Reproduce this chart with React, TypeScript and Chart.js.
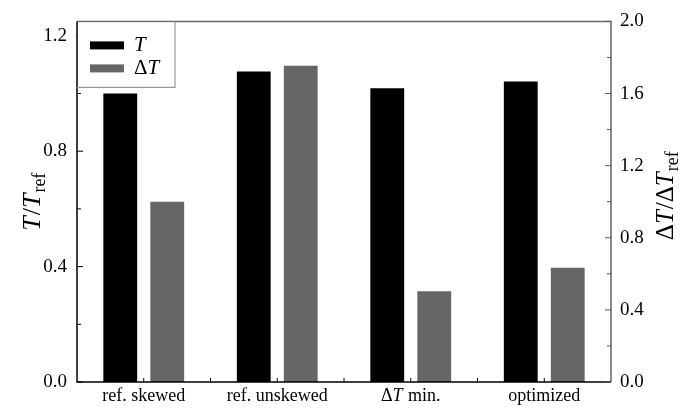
import React, { useEffect, useRef } from "react";
import { Chart, registerables } from "chart.js";

Chart.register(...registerables);

const categories = ["ref. skewed", "ref. unskewed", "ΔT min.", "optimized"];
const tValues = [1.0, 1.076, 1.018, 1.042];
const dtValues = [1.0, 1.754, 0.503, 0.634];
const leftTicks = [0, 0.4, 0.8, 1.2];
const rightTicks = [0, 0.4, 0.8, 1.2, 1.6, 2.0];

const SERIF = '"Liberation Serif", "DejaVu Serif", serif';

type Seg = { t: string; it?: boolean; sub?: boolean };

function drawMath(ctx: CanvasRenderingContext2D, segs: Seg[], x: number, y: number, size: number, align: "center" | "left") {
  const fontFor = (s: Seg) => `${s.it ? "italic " : ""}${s.sub ? Math.round(size * 0.7) : size}px ${SERIF}`;
  let total = 0;
  const widths = segs.map((s) => {
    ctx.font = fontFor(s);
    const w = ctx.measureText(s.t).width + (s.it ? 1 : 0);
    total += w;
    return w;
  });
  let cx = align === "center" ? x - total / 2 : x;
  ctx.textAlign = "left";
  ctx.textBaseline = "middle";
  segs.forEach((s, i) => {
    ctx.font = fontFor(s);
    ctx.fillText(s.t, cx, s.sub ? y + size * 0.28 : y);
    cx += widths[i];
  });
}

function labelSegs(label: string): Seg[] {
  const i = label.indexOf("Δ");
  if (i < 0) return [{ t: label }];
  const segs: Seg[] = [];
  if (i > 0) segs.push({ t: label.slice(0, i) });
  segs.push({ t: "Δ" });
  segs.push({ t: label[i + 1], it: true });
  segs.push({ t: label.slice(i + 2) });
  return segs;
}

const decorPlugin = {
  id: "decor",
  afterDraw(chart: any) {
    const ctx: CanvasRenderingContext2D = chart.ctx;
    const a = chart.chartArea;
    const yl = chart.scales.y;
    const yr = chart.scales.y2;
    const xs = chart.scales.x;
    ctx.save();
    // frame
    ctx.lineWidth = 1.5;
    ctx.strokeStyle = "#666";
    ctx.beginPath();
    ctx.moveTo(a.left, a.top);
    ctx.lineTo(a.right, a.top);
    ctx.lineTo(a.right, a.bottom);
    ctx.stroke();
    ctx.strokeStyle = "#000";
    ctx.beginPath();
    ctx.moveTo(a.left, a.top);
    ctx.lineTo(a.left, a.bottom);
    ctx.lineTo(a.right, a.bottom);
    ctx.stroke();
    // ticks
    ctx.lineWidth = 1;
    ctx.strokeStyle = "#000";
    for (let v = 0; v <= 1.25 + 1e-9; v += 0.2) {
      const major = Math.abs(v / 0.4 - Math.round(v / 0.4)) < 1e-6;
      const py = yl.getPixelForValue(v);
      const len = major ? 6 : 4;
      ctx.beginPath();
      ctx.moveTo(a.left, py);
      ctx.lineTo(a.left + len, py);
      ctx.stroke();
    }
    ctx.strokeStyle = "#555";
    for (let v = 0; v <= 2.0 + 1e-9; v += 0.2) {
      const major = Math.abs(v / 0.4 - Math.round(v / 0.4)) < 1e-6;
      const py = yr.getPixelForValue(v);
      const len = major ? 6 : 4;
      ctx.beginPath();
      ctx.moveTo(a.right, py);
      ctx.lineTo(a.right - len, py);
      ctx.stroke();
    }
    ctx.strokeStyle = "#000";
    for (let i = 0; i < categories.length * 2 - 1; i++) {
      const px = xs.getPixelForValue(i / 2);
      ctx.beginPath();
      ctx.moveTo(px, a.bottom);
      ctx.lineTo(px, a.bottom - 4);
      ctx.stroke();
    }
    // category labels
    ctx.fillStyle = "#000";
    categories.forEach((c, i) => {
      const px = xs.getPixelForValue(i);
      drawMath(ctx, labelSegs(c), px, a.bottom + 14, 18, "center");
    });
    // axis titles
    ctx.save();
    ctx.translate(33, (a.top + a.bottom) / 2);
    ctx.rotate(-Math.PI / 2);
    drawMath(ctx, [{ t: "T", it: true }, { t: "/" }, { t: "T", it: true }, { t: "ref", sub: true }], 0, 0, 26, "center");
    ctx.restore();
    ctx.save();
    ctx.translate(666, (a.top + a.bottom) / 2 - 6);
    ctx.rotate(-Math.PI / 2);
    drawMath(
      ctx,
      [{ t: "Δ" }, { t: "T", it: true }, { t: "/Δ" }, { t: "T", it: true }, { t: "ref", sub: true }],
      0,
      0,
      25,
      "center"
    );
    ctx.restore();
    // legend
    const lx = a.left, ly = a.top, lw = 98, lh = 66;
    ctx.fillStyle = "#fff";
    ctx.fillRect(lx + 1, ly + 1, lw - 1, lh - 1);
    ctx.strokeStyle = "#999";
    ctx.lineWidth = 1.2;
    ctx.beginPath();
    ctx.moveTo(lx + lw, ly);
    ctx.lineTo(lx + lw, ly + lh);
    ctx.lineTo(lx, ly + lh);
    ctx.stroke();
    const ds = chart.data.datasets;
    ds.forEach((d: any, i: number) => {
      const sy = ly + 24 + i * 23;
      ctx.fillStyle = d.backgroundColor;
      ctx.fillRect(lx + 13, sy - 4, 34, 8);
      ctx.fillStyle = "#000";
      drawMath(ctx, labelSegs(d.label).length > 1 ? labelSegs(d.label) : [{ t: d.label, it: true }], lx + 57, sy, 21, "left");
    });
    ctx.restore();
  },
};

export default function App() {
  const ref = useRef<HTMLCanvasElement>(null);
  useEffect(() => {
    document.body.style.margin = "0";
    const chart = new Chart(ref.current!, {
      type: "bar",
      data: {
        labels: categories,
        datasets: [
          { label: "T", data: tValues, backgroundColor: "#000", yAxisID: "y", categoryPercentage: 0.704, barPercentage: 0.72 },
          { label: "ΔT", data: dtValues, backgroundColor: "#666", yAxisID: "y2", categoryPercentage: 0.704, barPercentage: 0.72 },
        ],
      },
      options: {
        animation: false,
        responsive: false,
        maintainAspectRatio: false,
        layout: { padding: { top: 16, left: 0, right: 0, bottom: 0 } },
        plugins: { legend: { display: false }, tooltip: { enabled: false } },
        scales: {
          x: {
            grid: { display: false, drawTicks: false },
            border: { display: false },
            ticks: { display: false },
            afterFit: (s: any) => { s.height = 29; },
          },
          y: {
            position: "left",
            min: 0,
            max: 1.25,
            grid: { display: false, drawTicks: false },
            border: { display: false },
            afterBuildTicks: (s: any) => { s.ticks = leftTicks.map((v) => ({ value: v })); },
            ticks: {
              padding: 10,
              color: "#000",
              font: { family: SERIF, size: 19 },
              callback: (v: any) => Number(v).toFixed(1),
            },
            afterFit: (s: any) => { s.width = 77; },
          },
          y2: {
            position: "right",
            min: 0,
            max: 2.0,
            grid: { display: false, drawTicks: false },
            border: { display: false },
            afterBuildTicks: (s: any) => { s.ticks = rightTicks.map((v) => ({ value: v })); },
            ticks: {
              padding: 9,
              color: "#000",
              font: { family: SERIF, size: 19 },
              callback: (v: any) => Number(v).toFixed(1),
            },
            afterFit: (s: any) => { s.width = 74; },
          },
        },
      },
      plugins: [decorPlugin],
    });
    return () => chart.destroy();
  }, []);
  return (
    <div style={{ position: "absolute", left: 0, top: 0, width: 685, height: 411, background: "#fff" }}>
      <canvas ref={ref} width={685} height={411} style={{ width: 685, height: 411 }} />
    </div>
  );
}
